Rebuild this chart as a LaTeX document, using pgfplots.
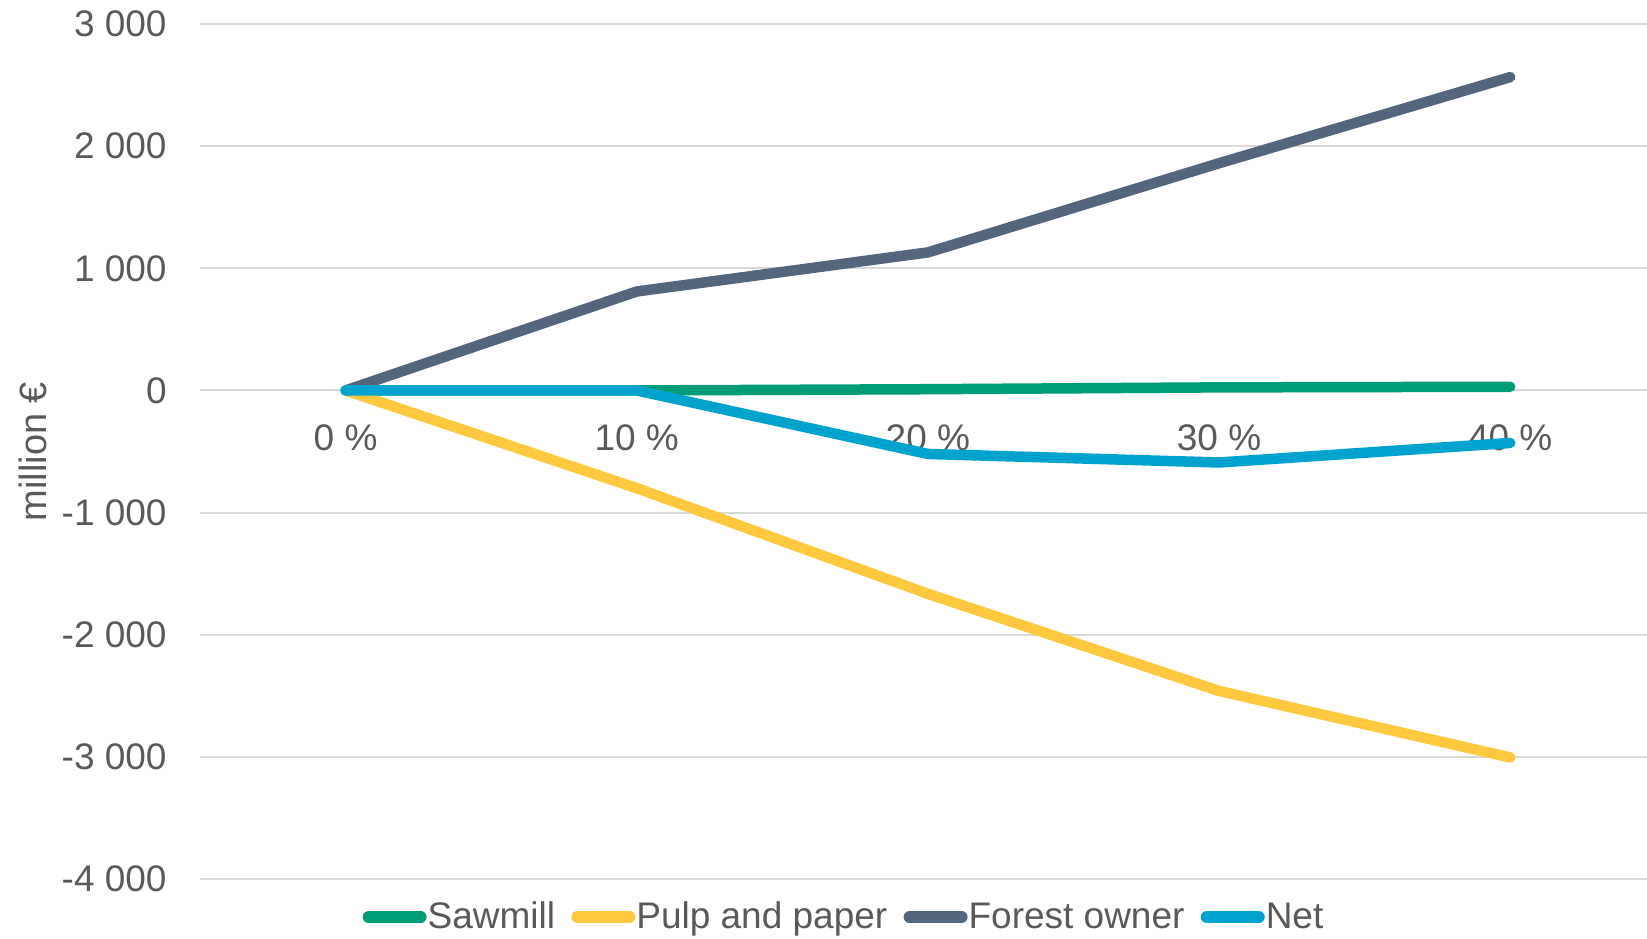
\documentclass[border=0pt]{standalone}
\usepackage{pgfplots}
\pgfplotsset{compat=1.18}
\usepackage{fontspec}
\setmainfont{Liberation Sans}
\definecolor{sawmill}{HTML}{009B77}
\definecolor{pulp}{HTML}{FFC83D}
\definecolor{forest}{HTML}{54657E}
\definecolor{net}{HTML}{00A2CE}
\definecolor{gridgray}{HTML}{D9D9D9}
\definecolor{labelgray}{HTML}{595959}

\begin{document}
\begin{tikzpicture}
\path[use as bounding box] (0,0) rectangle (823.5pt,469pt);
\begin{axis}[
  at={(100pt,29.5pt)}, anchor=south west,
  scale only axis, width=723.5pt, height=427.5pt,
  xmin=-0.5, xmax=4.47, ymin=-4000, ymax=3000,
  axis x line=middle, axis y line=left,
  axis line style={draw=none},
  hide obscured x ticks=false, hide obscured y ticks=false,
  major tick length=0pt,
  xtick={0,1,2,3,4},
  xticklabels={0 \%, 10 \%, 20 \%, 30 \%, 40 \%},
  ytick={-4000,-3000,-2000,-1000,0,1000,2000,3000},
  yticklabels={-4 000,-3 000,-2 000,-1 000,0,1 000,2 000,3 000},
  ymajorgrids, grid style={line width=1pt, color=gridgray},
  tick label style={font=\fontsize{18.5}{22}\selectfont, text=labelgray},
  xticklabel style={anchor=north, inner sep=0pt, yshift=-17pt},
  yticklabel style={anchor=east, inner sep=0pt, xshift=-16.5pt},
  ylabel={million €},
  ylabel style={at={(axis description cs:-0.1057,0.5)}, anchor=south, inner sep=0pt,
    font=\fontsize{19}{22}\selectfont, text=labelgray},
  clip=false,
  every axis plot/.append style={line width=5.25pt, line cap=round, line join=round, mark=none},
  legend columns=4,
  legend style={draw=none, fill=none, at={(0.1085,-0.0444)}, anchor=west,
    font=\fontsize{18.5}{22}\selectfont, text=labelgray, inner sep=0pt,
    nodes={inner sep=0.5pt},
    /tikz/every even column/.append style={column sep=5pt}},
  legend image code/.code={
    \path (0pt,0pt) (29pt,0pt);
    \draw[#1, line width=6pt, line cap=round] (3pt,0pt) -- (29pt,0pt);},
]
\addplot[sawmill] coordinates {(0,0) (1,0) (2,10) (3,25) (4,30)};
\addlegendentry{Sawmill}
\addplot[pulp] coordinates {(0,0) (1,-800) (2,-1665) (3,-2460) (4,-3005)};
\addlegendentry{Pulp and paper}
\addplot[forest] coordinates {(0,0) (1,810) (2,1130) (3,1860) (4,2565)};
\addlegendentry{Forest owner}
\addplot[net] coordinates {(0,0) (1,0) (2,-520) (3,-590) (4,-430)};
\addlegendentry{Net}
\end{axis}
\end{tikzpicture}
\end{document}
